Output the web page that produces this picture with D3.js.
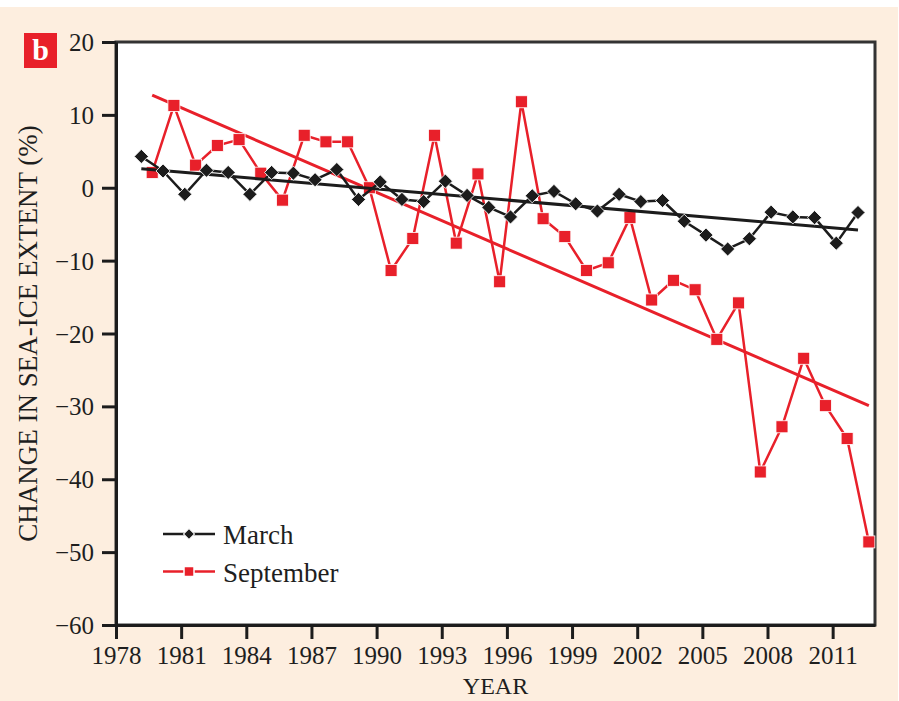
<!DOCTYPE html>
<html>
<head>
<meta charset="utf-8">
<script src="https://cdn.jsdelivr.net/npm/d3@7"></script>
<style>
  html, body { margin: 0; padding: 0; background: #fff; }
  svg { display: block; }
  text { font-family: "Liberation Serif", "Times New Roman", serif; fill: #1e1e1e; }
</style>
</head>
<body>
<div id="chart"></div>
<script>
// data (percent change in sea-ice extent)
const years = d3.range(1979, 2013);
const marchValues = [4.3, 2.3, -0.9, 2.4, 2.1, -0.9, 2.1, 2.0, 1.1, 2.5,
  -1.6, 0.8, -1.6, -1.9, 0.9, -1.05, -2.7, -4.0, -1.1, -0.5,
  -2.2, -3.2, -0.9, -1.9, -1.75, -4.6, -6.5, -8.4, -7.0, -3.35,
  -4.0, -4.1, -7.6, -3.4];
const septemberValues = [2.1, 11.3, 3.1, 5.8, 6.6, 2.0, -1.7, 7.2, 6.3, 6.3,
  0.0, -11.35, -6.95, 7.2, -7.6, 1.9, -12.9, 11.8, -4.25, -6.7,
  -11.35, -10.3, -4.1, -15.4, -12.7, -14.0, -20.8, -15.8, -39.0, -32.8,
  -23.4, -29.9, -34.4, -48.6];
// trend line end values (first year, last year)
const marchTrend = [2.6, -5.8];
const septemberTrend = [12.7, -29.9];
const xTicks = d3.range(1978, 2012, 3);
const yTicks = d3.range(-60, 21, 10);
const seriesNames = ["March", "September"];

// sizes
const FRAME_WIDTH = 899;
const FRAME_HEIGHT = 701;
const MARGINS = {left: 116, right: 24, top: 42, bottom: 76};
const RED = "#e8202a";
const BLACK = "#1c1c1c";
// month offsets inside a year, so points sit at March / September
const MARCH_OFF = 2 / 12;
const SEPT_OFF = 8 / 12;

const svg = d3.select("#chart")
  .append("svg")
  .attr("width", FRAME_WIDTH)
  .attr("height", FRAME_HEIGHT);

// cream panel
svg.append("rect")
  .attr("x", 0).attr("y", 7)
  .attr("width", 898).attr("height", FRAME_HEIGHT - 7)
  .attr("fill", "#fdeedf");

const x = d3.scaleLinear()
  .domain([1978, 2012.95])
  .range([MARGINS.left, FRAME_WIDTH - MARGINS.right]);
const y = d3.scaleLinear()
  .domain([-60, 20])
  .range([FRAME_HEIGHT - MARGINS.bottom, MARGINS.top]);

// plot area
svg.append("rect")
  .attr("x", x.range()[0]).attr("y", y.range()[1])
  .attr("width", x.range()[1] - x.range()[0])
  .attr("height", y.range()[0] - y.range()[1])
  .attr("fill", "#fff")
  .attr("stroke", "#333")
  .attr("stroke-width", 3);

// axes
const yAxis = svg.append("g")
  .attr("transform", `translate(${x.range()[0]},0)`)
  .call(d3.axisLeft(y).tickValues(yTicks).tickSize(14).tickSizeOuter(0).tickPadding(8));
const xAxis = svg.append("g")
  .attr("transform", `translate(0,${y.range()[0]})`)
  .call(d3.axisBottom(x).tickValues(xTicks).tickFormat(d3.format("d"))
    .tickSize(14).tickSizeOuter(0).tickPadding(6));

[xAxis, yAxis].forEach(function (g) {
  g.select(".domain").attr("stroke", BLACK).attr("stroke-width", 3);
  g.selectAll(".tick line").attr("stroke", BLACK).attr("stroke-width", 3);
  g.selectAll(".tick text")
    .attr("font-size", 25)
    .attr("font-family", "Liberation Serif")
    .attr("fill", "#1e1e1e");
});
yAxis.selectAll(".tick text").attr("dy", "0.34em");
xAxis.selectAll(".tick text").attr("dy", "0.74em");

// axis titles
svg.append("text")
  .attr("transform", `translate(37,${(y(20) + y(-60)) / 2}) rotate(-90)`)
  .attr("text-anchor", "middle")
  .attr("font-size", 27)
  .text("CHANGE IN SEA-ICE EXTENT (%)");
svg.append("text")
  .attr("x", (x.range()[0] + x.range()[1]) / 2)
  .attr("y", 694)
  .attr("text-anchor", "middle")
  .attr("font-size", 24)
  .text("YEAR");

// panel label
svg.append("rect")
  .attr("x", 24).attr("y", 33).attr("width", 33).attr("height", 35)
  .attr("fill", RED);
svg.append("text")
  .attr("x", 40.5).attr("y", 60)
  .attr("text-anchor", "middle")
  .attr("font-size", 30)
  .attr("font-weight", "bold")
  .style("fill", "#fff")
  .text("b");

const march = years.map((yr, i) => ({x: yr + MARCH_OFF, y: marchValues[i]}));
const sept = years.map((yr, i) => ({x: yr + SEPT_OFF, y: septemberValues[i]}));

const line = d3.line().x(d => x(d.x)).y(d => y(d.y));
const plot = svg.append("g");

// September (red) first
plot.append("path")
  .attr("d", line([{x: years[0] + SEPT_OFF, y: septemberTrend[0]},
                   {x: years[years.length - 1] + SEPT_OFF, y: septemberTrend[1]}]))
  .attr("stroke", RED).attr("stroke-width", 3).attr("fill", "none");
plot.append("path")
  .attr("d", line(sept))
  .attr("stroke", RED).attr("stroke-width", 2.5).attr("fill", "none")
  .attr("stroke-linejoin", "round");
plot.selectAll(".sq")
  .data(sept)
  .join("rect")
  .attr("class", "sq")
  .attr("x", d => x(d.x) - 6).attr("y", d => y(d.y) - 6)
  .attr("width", 12).attr("height", 12)
  .attr("fill", RED).attr("stroke", "#fff").attr("stroke-width", 0.8);

// March (black)
plot.append("path")
  .attr("d", line([{x: years[0] + MARCH_OFF, y: marchTrend[0]},
                   {x: years[years.length - 1] + MARCH_OFF, y: marchTrend[1]}]))
  .attr("stroke", BLACK).attr("stroke-width", 3).attr("fill", "none");
plot.append("path")
  .attr("d", line(march))
  .attr("stroke", BLACK).attr("stroke-width", 2.5).attr("fill", "none")
  .attr("stroke-linejoin", "round");
const diamond = d3.symbol().type(d3.symbolSquare).size(100);
plot.selectAll(".dm")
  .data(march)
  .join("path")
  .attr("class", "dm")
  .attr("d", diamond)
  .attr("transform", d => `translate(${x(d.x)},${y(d.y)}) rotate(45)`)
  .attr("fill", BLACK).attr("stroke", "#fff").attr("stroke-width", 0.8);

// legend
const legend = svg.append("g").attr("transform", "translate(163,534)");
seriesNames.forEach(function (name, i) {
  const g = legend.append("g").attr("transform", `translate(0,${i * 37.5})`);
  const col = i === 0 ? BLACK : RED;
  g.append("line")
    .attr("x1", 0).attr("x2", 52).attr("y1", 0).attr("y2", 0)
    .attr("stroke", col).attr("stroke-width", 2.5);
  if (i === 0) {
    g.append("path")
      .attr("d", d3.symbol().type(d3.symbolSquare).size(60))
      .attr("transform", "translate(26,0) rotate(45)")
      .attr("fill", col).attr("stroke", "#fff").attr("stroke-width", 1);
  } else {
    g.append("rect")
      .attr("x", 21).attr("y", -5).attr("width", 10).attr("height", 10)
      .attr("fill", col).attr("stroke", "#fff").attr("stroke-width", 1.5);
  }
  g.append("text")
    .attr("x", 60).attr("y", 10)
    .attr("font-size", 27)
    .text(name);
});
</script>
</body>
</html>
